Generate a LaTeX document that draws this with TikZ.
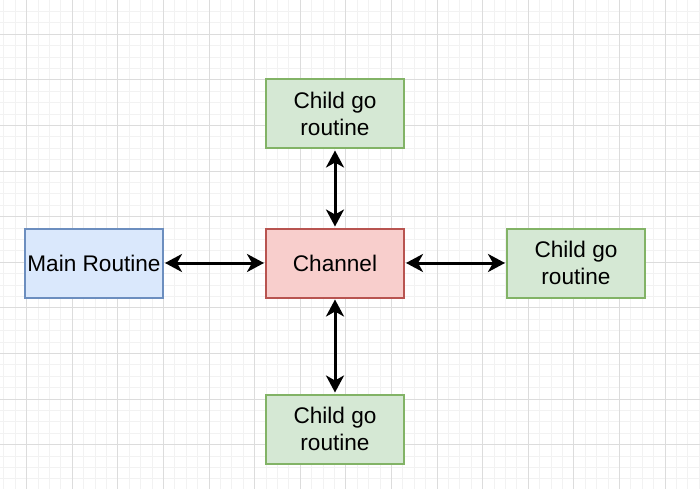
\documentclass[tikz,border=0pt]{standalone}
\usepackage{fontspec}
\setmainfont{Liberation Sans}
\usetikzlibrary{arrows.meta}
\definecolor{minorgrid}{HTML}{F2F2F2}
\definecolor{majorgrid}{HTML}{DCDCDC}
\definecolor{bluefill}{HTML}{DAE8FC}
\definecolor{bluedraw}{HTML}{6C8EBF}
\definecolor{redfill}{HTML}{F8CECC}
\definecolor{reddraw}{HTML}{B85450}
\definecolor{greenfill}{HTML}{D5E8D4}
\definecolor{greendraw}{HTML}{82B366}
\tikzset{
  box/.style={draw, line width=2pt, minimum width=138pt, minimum height=69pt,
    inner sep=0pt, align=center, font=\fontsize{22.6}{27.7}\selectfont, text=black},
  mainbox/.style={box, fill=bluefill, draw=bluedraw},
  chanbox/.style={box, fill=redfill, draw=reddraw},
  childbox/.style={box, fill=greenfill, draw=greendraw},
  link/.style={line width=3pt, black, {Stealth[length=17pt,width=18pt,inset=5pt]}-{Stealth[length=17pt,width=18pt,inset=5pt]}, shorten <=1pt, shorten >=1pt},
  minorline/.style={minorgrid, line width=1pt},
  majorline/.style={majorgrid, line width=1pt}
}
\begin{document}
\begin{tikzpicture}[x=1pt,y=-1pt]
\fill[white] (0,0) rectangle (700,489);
\useasboundingbox (0,0) rectangle (700,489);
\foreach \i in {0,...,61} {\draw[minorline] ({3.9+11.4*\i},0) -- ++(0,489);}
\foreach \i in {0,...,42} {\draw[minorline] (0,{11.5+11.4*\i}) -- ++(700,0);}
\foreach \i in {0,...,15} {\draw[majorline] ({26.7+45.6*\i},0) -- ++(0,489);}
\foreach \i in {0,...,10} {\draw[majorline] (0,{34.3+45.6*\i}) -- ++(700,0);}
\node[mainbox] (main) at (94,263) {Main Routine};
\node[chanbox] (chan) at (335,263) {Channel};
\node[childbox] (top) at (335,114) {Child go\\routine};
\node[childbox] (right) at (576,263) {Child go\\routine};
\node[childbox] (bottom) at (335,429) {Child go\\routine};
\draw[link] (main) -- (chan);
\draw[link] (chan) -- (right);
\draw[link] (top) -- (chan);
\draw[link] (chan) -- (bottom);
\end{tikzpicture}
\end{document}
